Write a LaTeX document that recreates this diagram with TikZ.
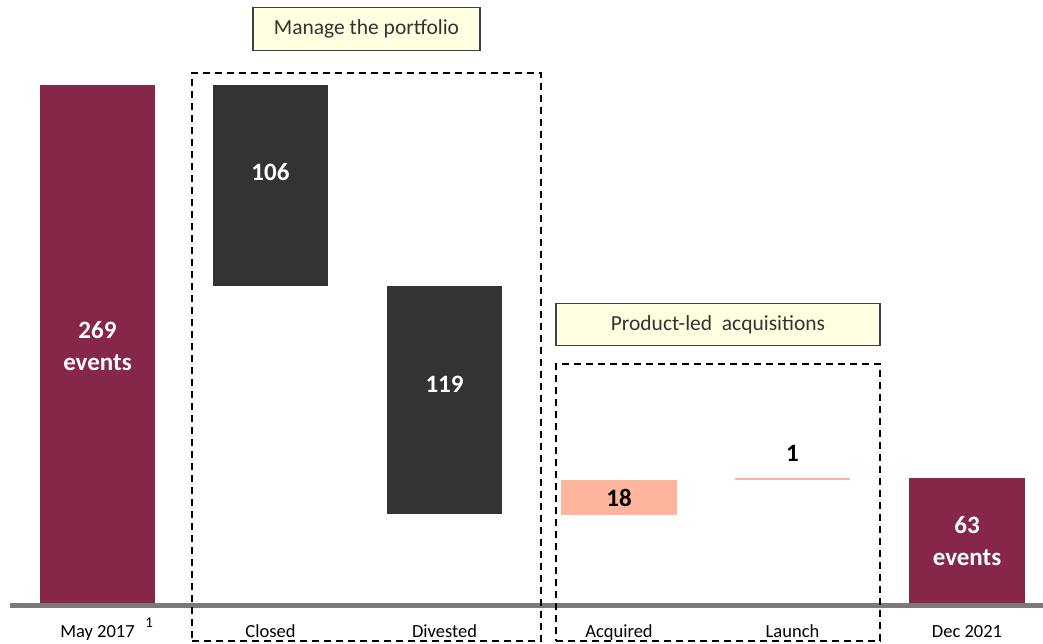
\documentclass[tikz,border=0pt]{standalone}
\usepackage{fontspec}
\setmainfont{Carlito}
\usetikzlibrary{positioning}
\definecolor{wine}{RGB}{134,38,72}
\definecolor{charcoal}{RGB}{51,51,51}
\definecolor{salmon}{RGB}{255,181,155}
\definecolor{cream}{RGB}{255,255,225}
\definecolor{axisgray}{RGB}{122,122,122}
\begin{document}
\begin{tikzpicture}[x=1pt,y=-1pt]
  \tikzstyle{bar}=[inner sep=0pt,outer sep=0pt,minimum width=115pt,anchor=north west]
  \tikzstyle{value}=[align=center,font=\fontsize{25}{32}\selectfont\bfseries]
  \tikzstyle{tick}=[anchor=base,font=\fontsize{18.5}{20}\selectfont]
  \tikzstyle{group}=[draw=black,line width=1.6pt,dash pattern=on 7pt off 5pt,inner sep=0pt]
  \tikzstyle{title}=[draw=black!75,line width=1.5pt,fill=cream,inner sep=0pt,text=black!80,font=\fontsize{21.5}{24}\selectfont]

  \useasboundingbox (0,0) rectangle (1043,644);

  \node[bar,fill=wine,minimum height=520pt] (may) at (40,85) {};
  \node[bar,fill=charcoal,minimum height=201pt] (closed) at (213,85) {};
  \node[bar,fill=charcoal,minimum height=228pt] (divested) at (387,286) {};
  \node[bar,fill=salmon,minimum width=116pt,minimum height=35pt] (acquired) at (561,480) {};
  \node[bar,fill=salmon,minimum height=2pt] (launch) at (735,478) {};
  \node[bar,fill=wine,minimum width=116pt,minimum height=127pt] (dec) at (909,478) {};

  \node[value,text=white] (mayval) at ([yshift=-1pt]may.center) {269\\events};
  \node[value,text=white] (closedval) at ([yshift=13pt]closed.center) {106};
  \node[value,text=white] (divestedval) at ([yshift=16pt]divested.center) {119};
  \node[value] (acquiredval) at (acquired.center) {18};
  \node[value] (launchval) at ([yshift=26pt]launch.center) {1};
  \node[value,text=white] (decval) at (dec.center) {63\\events};

  \coordinate (axisL) at (10,605.5);
  \coordinate (axisR) at (1043,605.5);
  \draw[axisgray,line width=5pt] (axisL) -- (axisR);

  \coordinate (base) at (0,637);
  \node[tick] (maylbl) at (may.south |- base) {May 2017};
  \node[anchor=base west,inner sep=0pt,font=\fontsize{15}{16}\selectfont] (mayfn) at ([xshift=7pt,yshift=10pt]maylbl.base east) {1};
  \node[tick] (closedlbl) at (closed.south |- base) {Closed};
  \node[tick] (divestedlbl) at (divested.south |- base) {Divested};
  \node[tick] (acquiredlbl) at (acquired.south |- base) {Acquired};
  \node[tick] (launchlbl) at (launch.south |- base) {Launch};
  \node[tick] (declbl) at (dec.south |- base) {Dec 2021};

  \node[group,minimum width=349pt,minimum height=568pt] (manage) at (366.5,357) {};
  \node[group,minimum width=324pt,minimum height=277pt] (acquisition) at (718,502.5) {};

  \node[title,minimum width=227pt,minimum height=43pt,above=21pt of manage] (managetitle) {Manage the portfolio};
  \node[title,minimum width=324pt,minimum height=42pt,above=17pt of acquisition] (acquisitiontitle) {Product-led\ \ acquisitions};
\end{tikzpicture}
\end{document}
